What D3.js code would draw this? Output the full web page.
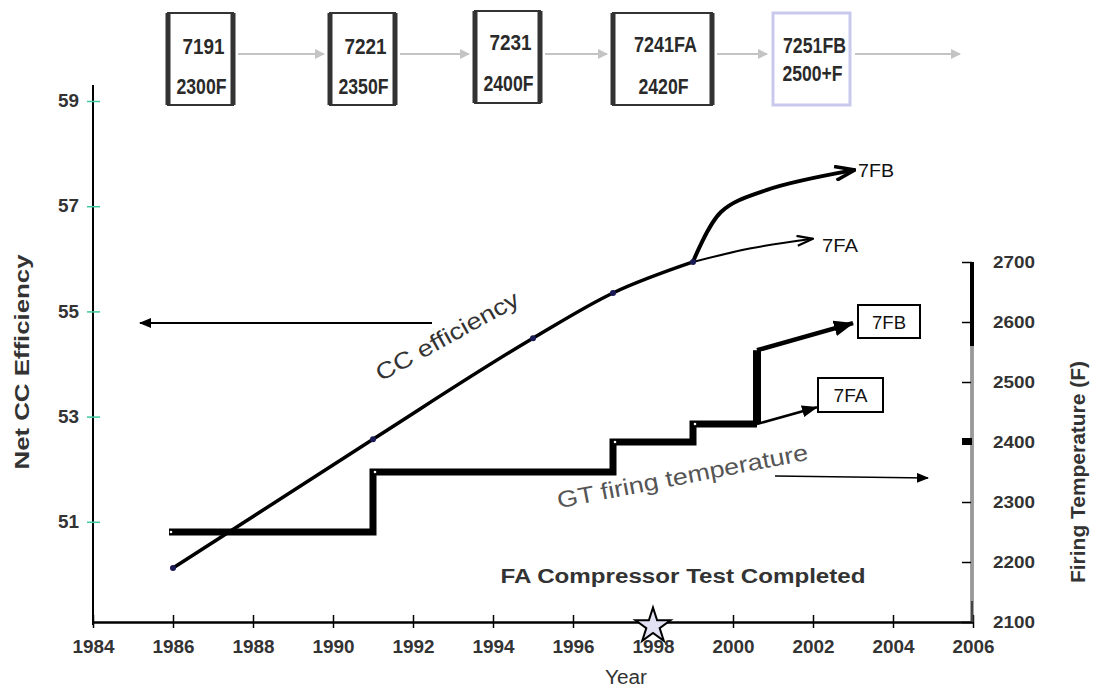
<!DOCTYPE html>
<html><head><meta charset="utf-8">
<script src="https://cdn.jsdelivr.net/npm/d3@7"></script>
<style>
body{margin:0;background:#fff;}
svg{display:block;font-family:"Liberation Sans",Arial,sans-serif;}
</style></head>
<body>
<svg id="c" width="1100" height="689"></svg>
<script>
// ---------------- data ----------------
const xTicks = [1984,1986,1988,1990,1992,1994,1996,1998,2000,2002,2004,2006];
const effTicks = [51,53,55,57,59];
const tempTicks = [2100,2200,2300,2400,2500,2600,2700];

const effYears = [1986,1991,1995,1997,1999];
const effValues = [50.12,52.57,54.49,55.35,55.94];
const eff7FAYears = [1999,2000.45,2002];
const eff7FAValues = [55.94,56.2,56.38];
const eff7FBYears = [1999,1999.7,2000.85,2003.05];
const eff7FBValues = [55.94,56.89,57.31,57.69];

const tempYears = [1985.9,1991,1997,1999,2000.6];
const tempValues = [2250,2350,2400,2430,2430];
const temp7FBYears = [2000.6,2000.6,2003];
const temp7FBValues = [2430,2553,2598];
const temp7FAYears = [2000.6,2002.1];
const temp7FAValues = [2430,2458];

const frameModels = ["7191","7221","7231","7241FA","7251FB"];
const frameTemps = ["2300F","2350F","2400F","2420F","2500+F"];
const testYear = 1998;

// ---------------- layout ----------------
const svg = d3.select("#c");
const x = d3.scaleLinear().domain([1984,2006]).range([93,973]);
const yL = d3.scaleLinear().domain([49,59]).range([627,101]);
const yR = d3.scaleLinear().domain([2100,2700]).range([622,262]);

const defs = svg.append("defs");
function marker(id, path, w, h, fill, stroke, sw){
  defs.append("marker").attr("id",id).attr("viewBox",`0 0 ${w} ${h}`)
    .attr("refX",w-1).attr("refY",h/2).attr("markerWidth",w).attr("markerHeight",h)
    .attr("markerUnits","userSpaceOnUse").attr("orient","auto")
    .append("path").attr("d",path).attr("fill",fill).attr("stroke",stroke||"none").attr("stroke-width",sw||0)
    .attr("stroke-linejoin","miter");
}
marker("vbig","M1,1 L21,8 L1,15",22,16,"none","#000",3.5);
marker("vsmall","M1,1 L17,6 L1,11",18,12,"none","#000",2.2);
marker("tri","M0,0 L20,8 L0,16 Z",20,16,"#000");
marker("trismall","M0,0 L16,6 L0,12 Z",16,12,"#000");
marker("grey","M0,0 L10,5 L0,10 Z",10,10,"#c4c4c4");
marker("left","M0,0 L12,5 L0,10 Z",12,10,"#000");

// ---------------- top boxes ----------------
const boxes = [
  {x0:168,x1:233,y0:13,y1:105,l1:54,l2:94},
  {x0:330,x1:395,y0:13,y1:105,l1:54,l2:94},
  {x0:475,x1:540,y0:11,y1:103,l1:50,l2:91},
  {x0:613,x1:712,y0:13,y1:105,l1:52,l2:94},
  {x0:773,x1:850,y0:13,y1:105,l1:53,l2:81}
];
frameModels.forEach((m,i)=>{
  const b = boxes[i];
  const g = svg.append("g");
  const light = i===4;
  const c = light ? "#c9c9ee" : "#333";
  g.append("rect").attr("x",b.x0).attr("y",b.y0).attr("width",b.x1-b.x0).attr("height",b.y1-b.y0)
    .attr("fill","#fff").attr("stroke",c).attr("stroke-width",light?3:2);
  if(!light){
    g.append("line").attr("x1",b.x0).attr("x2",b.x0).attr("y1",b.y0).attr("y2",b.y1).attr("stroke","#333").attr("stroke-width",5);
    g.append("line").attr("x1",b.x1).attr("x2",b.x1).attr("y1",b.y0).attr("y2",b.y1).attr("stroke","#333").attr("stroke-width",5);
  }
  const cx = (b.x0+b.x1)/2 + 3;
  g.append("text").attr("x",cx).attr("y",b.l1).attr("text-anchor","middle")
    .attr("font-size",22).attr("font-weight","bold").attr("fill","#2a2a2a")
    .attr("textLength", m.length*10.5).attr("lengthAdjust","spacingAndGlyphs").text(m);
  g.append("text").attr("x",cx-2).attr("y",b.l2).attr("text-anchor","middle")
    .attr("font-size",22).attr("font-weight","bold").attr("fill","#2a2a2a")
    .attr("textLength", frameTemps[i].length*10).attr("lengthAdjust","spacingAndGlyphs").text(frameTemps[i]);
  const nx = i<4 ? boxes[i+1].x0-6 : 960;
  svg.append("line").attr("x1",b.x1+5).attr("x2",nx).attr("y1",54).attr("y2",54)
    .attr("stroke","#c4c4c4").attr("stroke-width",2).attr("marker-end","url(#grey)");
});

// ---------------- axes ----------------
const xa = svg.append("g").attr("transform","translate(0,622)")
  .call(d3.axisBottom(x).tickValues(xTicks).tickFormat(d3.format("d")).tickSizeOuter(0));
xa.select(".domain").attr("stroke","#000").attr("stroke-width",2.5);
xa.selectAll(".tick line").attr("y1",-7).attr("y2",6).attr("stroke","#000").attr("stroke-width",1.5);
xa.selectAll(".tick text").attr("y",31).attr("dy",0).attr("font-size",18).attr("font-weight","bold")
  .attr("fill","#333").attr("textLength",42).attr("lengthAdjust","spacingAndGlyphs");

const la = svg.append("g").attr("transform","translate(93,0)")
  .call(d3.axisLeft(yL).tickValues(effTicks).tickSizeOuter(0));
la.select(".domain").attr("d",`M0,85 V625`).attr("stroke","#000").attr("stroke-width",2);
la.selectAll(".tick line").attr("x1",-6).attr("x2",7).attr("stroke","#3ec9a0").attr("stroke-width",1.5);
la.selectAll(".tick text").attr("x",-14).attr("font-size",18).attr("font-weight","bold").attr("fill","#333")
  .attr("textLength",21).attr("lengthAdjust","spacingAndGlyphs");

const ra = svg.append("g").attr("transform","translate(972,0)")
  .call(d3.axisRight(yR).tickValues(tempTicks).tickFormat(d3.format("d")).tickSizeOuter(0));
ra.select(".domain").attr("d","M0,262 V622").attr("stroke","#444").attr("stroke-width",3);
ra.selectAll(".tick line").attr("x1",-10).attr("x2",0).attr("stroke","#000").attr("stroke-width",1.5);
ra.selectAll(".tick text").attr("x",21).attr("font-size",17).attr("font-weight","bold").attr("fill","#333")
  .attr("textLength",42).attr("lengthAdjust","spacingAndGlyphs");
ra.append("line").attr("x1",0).attr("x2",0).attr("y1",yR(2700)).attr("y2",yR(2560)).attr("stroke","#000").attr("stroke-width",4);
ra.append("line").attr("x1",0).attr("x2",0).attr("y1",yR(2560)).attr("y2",yR(2135)).attr("stroke","#999").attr("stroke-width",2);
ra.append("rect").attr("x",-10).attr("y",yR(2400)-4).attr("width",10).attr("height",7).attr("fill","#000");

svg.append("text").attr("transform","translate(29,362) rotate(-90)").attr("text-anchor","middle")
  .attr("font-size",20).attr("font-weight","bold").attr("fill","#333")
  .attr("textLength",215).attr("lengthAdjust","spacingAndGlyphs").text("Net CC Efficiency");
svg.append("text").attr("transform","translate(1085,472) rotate(-90)").attr("text-anchor","middle")
  .attr("font-size",20).attr("font-weight","bold").attr("fill","#333")
  .attr("textLength",222).attr("lengthAdjust","spacingAndGlyphs").text("Firing Temperature (F)");
svg.append("text").attr("x",626).attr("y",684).attr("text-anchor","middle")
  .attr("font-size",20).attr("fill","#333").attr("textLength",42).attr("lengthAdjust","spacingAndGlyphs").text("Year");

// ---------------- temperature steps ----------------
const stepLine = d3.line().x(d=>x(d[0])).y(d=>yR(d[1])).curve(d3.curveStepAfter);
const tPts = tempYears.map((t,i)=>[t,tempValues[i]]);
svg.append("path").attr("d",stepLine(tPts)).attr("fill","none").attr("stroke","#000")
  .attr("stroke-width",7).attr("stroke-linejoin","miter");
const lin = d3.line().x(d=>x(d[0])).y(d=>yR(d[1]));
const t7FB = temp7FBYears.map((t,i)=>[t,temp7FBValues[i]]);
svg.append("path").attr("d",lin(t7FB.slice(0,2))).attr("fill","none").attr("stroke","#000").attr("stroke-width",8);
svg.append("path").attr("d",lin(t7FB.slice(1))).attr("fill","none").attr("stroke","#000").attr("stroke-width",4.5)
  .attr("marker-end","url(#tri)");
const t7FA = temp7FAYears.map((t,i)=>[t,temp7FAValues[i]]);
svg.append("path").attr("d",lin(t7FA)).attr("fill","none").attr("stroke","#000").attr("stroke-width",2.5)
  .attr("marker-end","url(#trismall)");
svg.selectAll(".tdot").data(tPts.slice(0,4)).enter().append("circle")
  .attr("cx",d=>x(d[0])+2).attr("cy",d=>yR(d[1])).attr("r",1.3).attr("fill","#fff");

function labelBox(x0,y0,w,h,t){
  svg.append("rect").attr("x",x0).attr("y",y0).attr("width",w).attr("height",h).attr("fill","#fff")
    .attr("stroke","#000").attr("stroke-width",2);
  svg.append("text").attr("x",x0+w/2).attr("y",y0+h/2+7).attr("text-anchor","middle")
    .attr("font-size",19).attr("fill","#111").attr("textLength",34).attr("lengthAdjust","spacingAndGlyphs").text(t);
}
labelBox(858,305,62,33,"7FB");
labelBox(818,378,65,34,"7FA");

// ---------------- efficiency curve ----------------
const effLine = d3.line().x(d=>x(d[0])).y(d=>yL(d[1])).curve(d3.curveMonotoneX);
const ePts = effYears.map((t,i)=>[t,effValues[i]]);
svg.append("path").attr("d",effLine(ePts)).attr("fill","none").attr("stroke","#000").attr("stroke-width",3.5);
const eFA = eff7FAYears.map((t,i)=>[t,eff7FAValues[i]]);
svg.append("path").attr("d",effLine(eFA)).attr("fill","none").attr("stroke","#000").attr("stroke-width",2)
  .attr("marker-end","url(#vsmall)");
const eFB = eff7FBYears.map((t,i)=>[t,eff7FBValues[i]]);
const effLineB = d3.line().x(d=>x(d[0])).y(d=>yL(d[1])).curve(d3.curveCatmullRom.alpha(0.5));
svg.append("path").attr("d",effLineB(eFB)).attr("fill","none").attr("stroke","#000").attr("stroke-width",4)
  .attr("marker-end","url(#vbig)");
svg.selectAll(".edot").data(ePts).enter().append("circle")
  .attr("cx",d=>x(d[0])).attr("cy",d=>yL(d[1])).attr("r",3).attr("fill","#1a1a55");

svg.append("text").attr("x",858).attr("y",177).attr("font-size",19).attr("fill","#111")
  .attr("textLength",36).attr("lengthAdjust","spacingAndGlyphs").text("7FB");
svg.append("text").attr("x",822).attr("y",252).attr("font-size",19).attr("fill","#111")
  .attr("textLength",36).attr("lengthAdjust","spacingAndGlyphs").text("7FA");

// annotations
svg.append("text").attr("transform","translate(451,343) rotate(-29)").attr("text-anchor","middle")
  .attr("font-size",23).attr("fill","#333").attr("textLength",160).attr("lengthAdjust","spacingAndGlyphs")
  .text("CC efficiency");
svg.append("line").attr("x1",432).attr("x2",140).attr("y1",323).attr("y2",323).attr("stroke","#000")
  .attr("stroke-width",2).attr("marker-end","url(#left)");
svg.append("text").attr("transform","translate(684,484) rotate(-11)").attr("text-anchor","middle")
  .attr("font-size",23).attr("fill","#555").attr("textLength",255).attr("lengthAdjust","spacingAndGlyphs")
  .text("GT firing temperature");
svg.append("line").attr("x1",775).attr("x2",928).attr("y1",476).attr("y2",478).attr("stroke","#000")
  .attr("stroke-width",1.5).attr("marker-end","url(#left)");
svg.append("text").attr("x",683).attr("y",583).attr("text-anchor","middle")
  .attr("font-size",20).attr("font-weight","bold").attr("fill","#333")
  .attr("textLength",365).attr("lengthAdjust","spacingAndGlyphs").text("FA Compressor Test Completed");

svg.append("path").attr("d",d3.symbol(d3.symbolStar,380)()).attr("transform",`translate(${x(testYear)},626)`)
  .attr("fill","#e2e2f4").attr("stroke","#000").attr("stroke-width",2);
</script>
</body></html>
